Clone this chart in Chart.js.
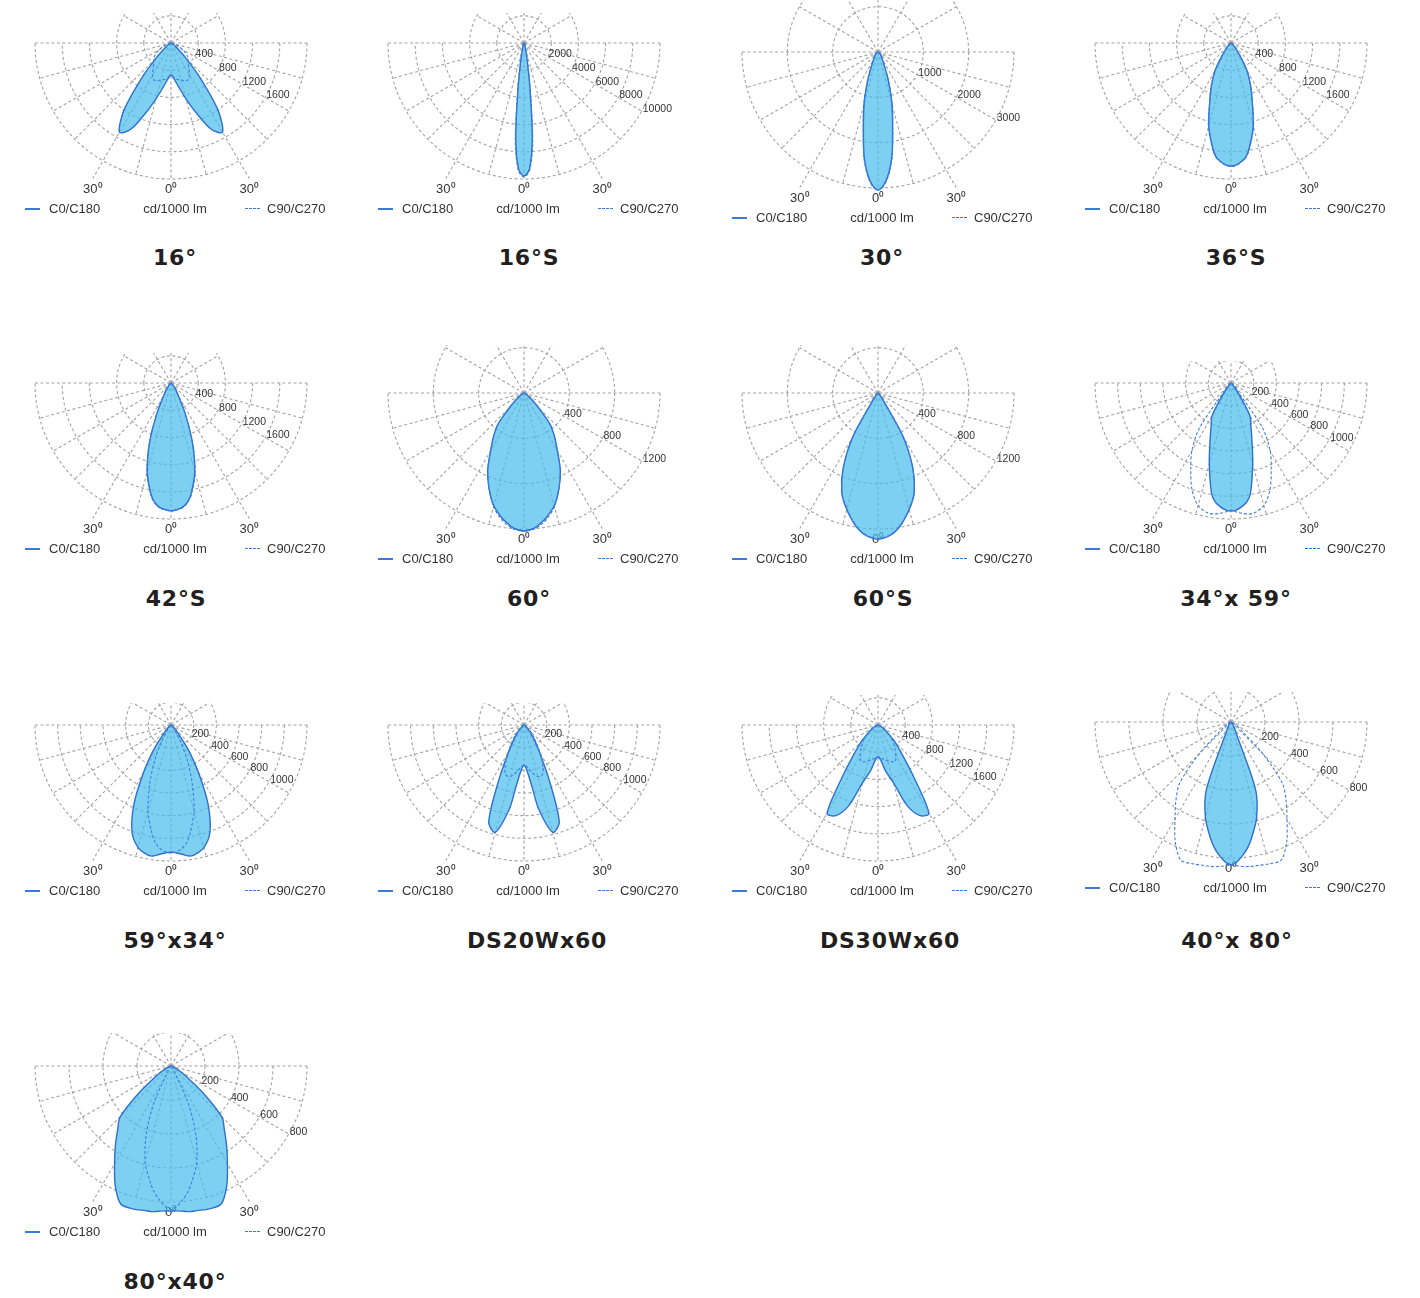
<!DOCTYPE html>
<html>
<head>
<meta charset="utf-8">
<script src="https://cdn.jsdelivr.net/npm/chart.js@4.4.1/dist/chart.umd.min.js"></script>
<style>
  body { margin:0; width:1420px; height:1298px; position:relative; overflow:hidden; background:#fff;
         font-family:"Liberation Sans", Arial, sans-serif; }
  canvas { position:absolute; }
  .leg { position:absolute; width:350px; height:16px; font-size:13px; color:#333; }
  .leg span { position:absolute; top:0; line-height:16px; white-space:nowrap; }
  .leg .mid { left:0; width:358px; text-align:center; }
  .leg i { position:absolute; top:7px; width:15px; height:0; }
  .title { position:absolute; font:bold 22px "DejaVu Sans", sans-serif; letter-spacing:0.8px; color:#231f20;
           line-height:26px; transform:translateX(-50%); white-space:nowrap; }
</style>
</head>
<body>
<script>
// gamma angles (deg from nadir) for every intensity list below
const GAMMA = [0, 2.5, 5, 7.5, 10, 15, 20, 25, 30, 35, 40, 45, 50, 55, 60, 70, 80, 90];

// intensities, cd/1000 lm  (C0/C180 solid, C90/C270 dashed)
const C0_16    = [470, 485, 530, 590, 660, 850, 1100, 1400, 1515, 1205, 660, 295, 130, 75, 45, 15, 0, 0];
const C90_16   = [500, 500, 515, 530, 545, 560, 590, 600, 545, 455, 395, 355, 325, 265, 205, 105, 45, 0];
const C0_16S   = [9780, 9260, 6980, 3310, 1470, 440, 220, 150, 110, 75, 75, 35, 0, 0, 0, 0, 0, 0];
const C90_16S  = [9850, 9410, 7350, 3675, 1620, 515, 220, 150, 110, 75, 75, 35, 0, 0, 0, 0, 0, 0];
const C0_30    = [3045, 2935, 2690, 2340, 1855, 1190, 660, 330, 200, 130, 110, 90, 65, 45, 45, 20, 0, 0];
const C90_30   = [3045, 2955, 2715, 2360, 1875, 1215, 685, 355, 200, 130, 110, 90, 65, 45, 45, 20, 0, 0];
const C0_36S   = [1810, 1795, 1750, 1690, 1560, 1265, 910, 675, 470, 235, 120, 60, 30, 15, 15, 0, 0, 0];
const C90_36S  = [1815, 1800, 1755, 1695, 1570, 1280, 920, 680, 470, 235, 120, 60, 30, 15, 15, 0, 0, 0];
const C0_42S   = [1880, 1865, 1840, 1780, 1675, 1350, 910, 485, 220, 120, 60, 30, 15, 0, 0, 0, 0, 0];
const C90_42S  = [1885, 1870, 1850, 1790, 1690, 1370, 925, 490, 220, 120, 60, 30, 15, 0, 0, 0, 0, 0];
const C0_60    = [1217, 1208, 1190, 1155, 1120, 1030, 900, 760, 590, 470, 355, 175, 90, 45, 25, 10, 0, 0];
const C90_60   = [1220, 1215, 1200, 1170, 1135, 1040, 900, 755, 585, 465, 350, 170, 85, 45, 25, 10, 0, 0];
const C0_60S   = [1290, 1280, 1260, 1225, 1180, 1065, 935, 725, 440, 90, 35, 18, 9, 5, 0, 0, 0, 0];
const C90_60S  = [1285, 1275, 1255, 1220, 1175, 1060, 930, 720, 435, 90, 35, 18, 9, 5, 0, 0, 0, 0];
const C0_3459  = [1130, 1120, 1095, 1060, 990, 740, 540, 415, 335, 125, 35, 18, 9, 0, 0, 0, 0, 0];
const C90_3459 = [1120, 1140, 1155, 1165, 1165, 1120, 1005, 840, 690, 485, 90, 70, 35, 18, 9, 0, 0, 0];
const C0_5934  = [1120, 1130, 1145, 1165, 1165, 1120, 1005, 775, 485, 265, 105, 55, 25, 18, 9, 0, 0, 0];
const C90_5934 = [1130, 1120, 1095, 1050, 970, 785, 545, 335, 160, 70, 35, 18, 9, 0, 0, 0, 0, 0];
const C0_DS20  = [355, 380, 440, 555, 760, 980, 910, 510, 265, 160, 90, 45, 25, 18, 9, 0, 0, 0];
const C90_DS20 = [355, 360, 380, 405, 430, 470, 470, 395, 280, 185, 125, 80, 45, 25, 18, 9, 0, 0];
const C0_DS30  = [470, 485, 530, 615, 705, 880, 1265, 1470, 1500, 880, 530, 355, 205, 120, 60, 15, 0, 0];
const C90_DS30 = [470, 470, 485, 500, 515, 545, 575, 590, 530, 440, 355, 280, 205, 145, 105, 45, 15, 0];
const C0_4080  = [841, 823, 788, 747, 694, 582, 423, 71, 35, 24, 18, 12, 6, 0, 0, 0, 0, 0];
const C90_4080 = [841, 847, 853, 858, 858, 864, 864, 776, 659, 565, 470, 265, 88, 47, 29, 12, 6, 0];
const C0_8040  = [853, 853, 858, 864, 864, 870, 864, 776, 664, 570, 488, 423, 247, 118, 59, 18, 6, 0];
const C90_8040 = [843, 825, 790, 750, 697, 585, 425, 235, 35, 24, 18, 12, 6, 0, 0, 0, 0, 0];

// ring values and their labels
const RINGS_400  = [400, 800, 1200, 1600, 2000];
const TICKS_400  = [400, 800, 1200, 1600];
const RINGS_2000 = [2000, 4000, 6000, 8000, 10000];
const RINGS_1000 = [1000, 2000, 3000];
const RINGS_1200 = [400, 800, 1200];
const RINGS_200  = [200, 400, 600, 800, 1000, 1200];
const TICKS_200  = [200, 400, 600, 800, 1000];
const RINGS_800  = [200, 400, 600, 800];

const ANGLES = [-30, 0, 30];
const ANGLE_LABELS = ['30\u2070', '0\u2070', '30\u2070'];
const LEGEND = ['C0/C180', 'cd/1000 lm', 'C90/C270'];
const TITLES = ['16°', '16°S', '30°', '36°S', '42°S', '60°', '60°S', '34°x 59°',
                '59°x34°', 'DS20Wx60', 'DS30Wx60', '40°x 80°', '80°x40°'];

const PANELS = [
  { c0: C0_16,   c90: C90_16,   rings: RINGS_400,  ticks: TICKS_400 },
  { c0: C0_16S,  c90: C90_16S,  rings: RINGS_2000, ticks: RINGS_2000 },
  { c0: C0_30,   c90: C90_30,   rings: RINGS_1000, ticks: RINGS_1000 },
  { c0: C0_36S,  c90: C90_36S,  rings: RINGS_400,  ticks: TICKS_400 },
  { c0: C0_42S,  c90: C90_42S,  rings: RINGS_400,  ticks: TICKS_400 },
  { c0: C0_60,   c90: C90_60,   rings: RINGS_1200, ticks: RINGS_1200 },
  { c0: C0_60S,  c90: C90_60S,  rings: RINGS_1200, ticks: RINGS_1200 },
  { c0: C0_3459, c90: C90_3459, rings: RINGS_200,  ticks: TICKS_200 },
  { c0: C0_5934, c90: C90_5934, rings: RINGS_200,  ticks: TICKS_200 },
  { c0: C0_DS20, c90: C90_DS20, rings: RINGS_200,  ticks: TICKS_200 },
  { c0: C0_DS30, c90: C90_DS30, rings: RINGS_400,  ticks: TICKS_400 },
  { c0: C0_4080, c90: C90_4080, rings: RINGS_800,  ticks: RINGS_800 },
  { c0: C0_8040, c90: C90_8040, rings: RINGS_800,  ticks: RINGS_800 }
];

// page layout: origin x, origin y, visible height above horizon, title x shift
const LAYOUT = [
  [171, 43, 30, 4], [524, 43, 30, 5], [878, 52, 56, 4], [1231, 43, 30, 5],
  [171, 383, 30, 5], [524, 393, 48, 5], [878, 393, 48, 5], [1231, 383, 22, 5],
  [171, 725, 22, 4], [524, 725, 22, 13], [878, 725, 30, 12], [1231, 722, 30, 6],
  [171, 1066, 33, 4]
];
const TITLE_Y = [258, 599, 941, 1282];
const RADIUS = 136;  // px of outer ring
const D2R = Math.PI / 180;

function polarPoints(vals) {
  const pts = [];
  for (let i = GAMMA.length - 1; i > 0; i--) {
    pts.push({ x: -vals[i] * Math.sin(GAMMA[i] * D2R), y: -vals[i] * Math.cos(GAMMA[i] * D2R) });
  }
  for (let i = 0; i < GAMMA.length; i++) {
    pts.push({ x: vals[i] * Math.sin(GAMMA[i] * D2R), y: -vals[i] * Math.cos(GAMMA[i] * D2R) });
  }
  return pts;
}

function makeGrid(p, clipH) {
  return {
    id: 'polarGrid',
    beforeDatasetsDraw(chart) {
      const ctx = chart.ctx, sx = chart.scales.x, sy = chart.scales.y;
      const ox = sx.getPixelForValue(0), oy = sy.getPixelForValue(0);
      const rad = v => sx.getPixelForValue(v) - ox;
      const R = rad(p.rings[p.rings.length - 1]);
      const r1 = rad(p.rings[0]), r2 = rad(p.rings[1]);
      ctx.save();
      ctx.strokeStyle = '#a3a3a3';
      ctx.lineWidth = 1.1;
      ctx.setLineDash([3, 2.5]);
      // lower half rings
      p.rings.forEach(v => { ctx.beginPath(); ctx.arc(ox, oy, rad(v), 0, Math.PI); ctx.stroke(); });
      ctx.beginPath(); ctx.moveTo(ox - R, oy); ctx.lineTo(ox + R, oy); ctx.stroke();
      // spokes every 15 deg
      for (let a = -75; a <= 75; a += 15) {
        const L = Math.abs(a) === 30 ? R * 1.15 : R;
        ctx.beginPath(); ctx.moveTo(ox, oy);
        ctx.lineTo(ox + Math.sin(a * D2R) * L, oy + Math.cos(a * D2R) * L);
        ctx.stroke();
      }
      // cropped upper half
      ctx.save();
      ctx.beginPath(); ctx.rect(ox - r2 - 2, oy - clipH, 2 * r2 + 4, clipH); ctx.clip();
      [r1, r2].forEach(r => { ctx.beginPath(); ctx.arc(ox, oy, r, Math.PI, 2 * Math.PI); ctx.stroke(); });
      for (let a = 30; a < 180; a += 30) {
        ctx.beginPath(); ctx.moveTo(ox, oy);
        ctx.lineTo(ox + Math.cos(a * D2R) * r2, oy - Math.sin(a * D2R) * r2);
        ctx.stroke();
      }
      ctx.restore();
      // ring labels along the 30 deg line
      ctx.setLineDash([]);
      ctx.fillStyle = '#333';
      ctx.font = '10.5px "Liberation Sans", Arial, sans-serif';
      ctx.textAlign = 'left';
      ctx.textBaseline = 'middle';
      p.ticks.forEach(v => {
        const r = rad(v);
        ctx.fillText(String(v), ox + Math.cos(30 * D2R) * r + 1, oy + Math.sin(30 * D2R) * r - 2);
      });
      // angle labels
      ctx.font = '13px "Liberation Sans", Arial, sans-serif';
      ctx.textAlign = 'center';
      const L = R * 1.15;
      ANGLES.forEach((a, i) => {
        ctx.fillText(ANGLE_LABELS[i], ox + Math.sin(a * D2R) * L, oy + Math.cos(30 * D2R) * L + 11);
      });
      ctx.restore();
    }
  };
}

PANELS.forEach((p, i) => {
  const [ox, oy, clipH, tdx] = LAYOUT[i];
  const s = p.rings[p.rings.length - 1] / RADIUS;   // cd per px

  const cv = document.createElement('canvas');
  cv.width = 350; cv.height = 220;
  cv.style.left = (ox - 175) + 'px';
  cv.style.top = (oy - 60) + 'px';
  document.body.appendChild(cv);

  new Chart(cv, {
    type: 'line',
    data: {
      datasets: [
        { data: polarPoints(p.c0), borderColor: '#2f70cc', borderWidth: 1.4,
          backgroundColor: 'rgba(70,188,236,0.7)', fill: 'shape', pointRadius: 0, tension: 0.3, order: 1 },
        { data: polarPoints(p.c90), borderColor: '#3d7de2', borderWidth: 1.1, borderDash: [3, 2],
          fill: false, pointRadius: 0, tension: 0.3, order: 0 }
      ]
    },
    options: {
      responsive: false,
      animation: false,
      events: [],
      layout: { padding: 0 },
      plugins: { legend: { display: false }, tooltip: { enabled: false } },
      scales: {
        x: { type: 'linear', display: false, min: -175 * s, max: 175 * s },
        y: { type: 'linear', display: false, min: -160 * s, max: 60 * s }
      }
    },
    plugins: [makeGrid(p, clipH)]
  });

  const leg = document.createElement('div');
  leg.className = 'leg';
  leg.style.left = (ox - 175) + 'px';
  leg.style.top = (oy + 158) + 'px';
  leg.innerHTML =
    '<i style="left:29px;border-top:2px solid #3b7bd4"></i>' +
    '<span style="left:53px">' + LEGEND[0] + '</span>' +
    '<span class="mid">' + LEGEND[1] + '</span>' +
    '<i style="left:249px;border-top:1.5px dashed #3b7bd4"></i>' +
    '<span style="left:271px">' + LEGEND[2] + '</span>';
  document.body.appendChild(leg);

  const t = document.createElement('div');
  t.className = 'title';
  t.textContent = TITLES[i];
  t.style.left = (ox + tdx) + 'px';
  t.style.top = (TITLE_Y[Math.floor(i / 4)] - 13) + 'px';
  document.body.appendChild(t);
});
</script>
</body>
</html>
